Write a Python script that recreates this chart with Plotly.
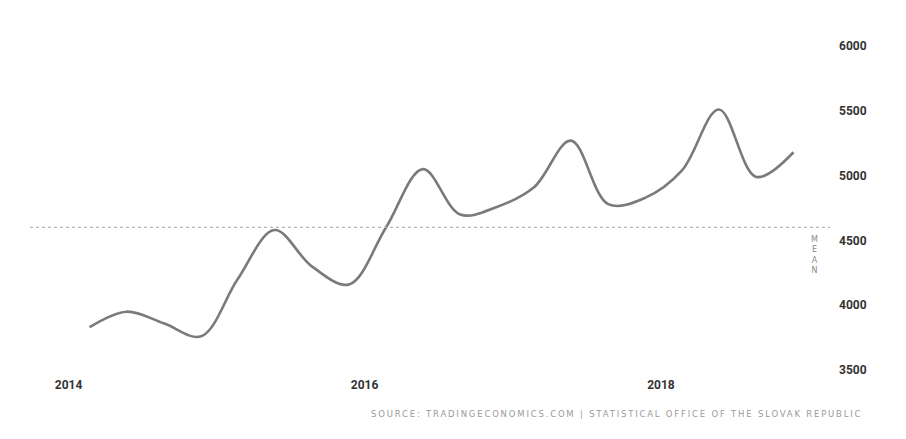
import plotly.graph_objects as go

dates = ["2014-03-31", "2014-06-30", "2014-09-30", "2014-12-31",
         "2015-03-31", "2015-06-30", "2015-09-30", "2015-12-31",
         "2016-03-31", "2016-06-30", "2016-09-30", "2016-12-31",
         "2017-03-31", "2017-06-30", "2017-09-30", "2017-12-31",
         "2018-03-31", "2018-06-30", "2018-09-30", "2018-12-31"]
values = [3830, 3950, 3860, 3760,
          4200, 4580, 4300, 4160,
          4600, 5050, 4700, 4760,
          4910, 5270, 4780, 4830,
          5040, 5510, 4990, 5180]
mean_value = 4600
x_tick_vals = ["2014-01-01", "2016-01-01", "2018-01-01"]
x_tick_text = ["2014", "2016", "2018"]
y_tick_vals = [3500, 4000, 4500, 5000, 5500, 6000]
source_text = "SOURCE: TRADINGECONOMICS.COM | STATISTICAL OFFICE OF THE SLOVAK REPUBLIC"

fig = go.Figure()
fig.add_trace(go.Scatter(
    x=dates, y=values, mode="lines",
    line=dict(color="#7a7a7a", width=2.6, shape="spline", smoothing=1.0),
    hoverinfo="x+y", showlegend=False,
))
fig.add_shape(type="line", xref="paper", yref="y", x0=0, x1=1,
              y0=mean_value, y1=mean_value,
              line=dict(color="#b5b5b5", width=1.2, dash="dot"))
fig.add_annotation(xref="paper", yref="y", x=0.987, y=4390,
                   text="M<br>E<br>A<br>N", showarrow=False,
                   font=dict(family="DejaVu Sans", size=8, color="#8a8a8a"),
                   align="center")
fig.add_annotation(xref="paper", yref="paper", x=1.042, y=-0.136,
                   xanchor="right", yanchor="middle",
                   text='<span style="letter-spacing:1.8px">' + source_text + '</span>',
                   showarrow=False,
                   font=dict(family="DejaVu Sans", size=8.5, color="#9a9a9a"))

fig.update_layout(
    width=898, height=431,
    margin=dict(l=22, r=76, t=38, b=69),
    paper_bgcolor="white", plot_bgcolor="white",
    xaxis=dict(range=["2013-11-04", "2019-03-31"], type="date",
               tickvals=x_tick_vals, ticktext=x_tick_text,
               showgrid=False, zeroline=False, showline=False, ticks="",
               ticklabelshift=15, ticklabelstandoff=6,
               tickfont=dict(family="Roboto", size=12, color="#333333", weight="bold")),
    yaxis=dict(range=[3500, 6000], side="right", tickvals=y_tick_vals,
               showgrid=False, zeroline=False, showline=False, ticks="",
               ticklabelstandoff=8,
               tickfont=dict(family="Roboto", size=12, color="#333333", weight="bold")),
)
fig.write_html("out.html")
